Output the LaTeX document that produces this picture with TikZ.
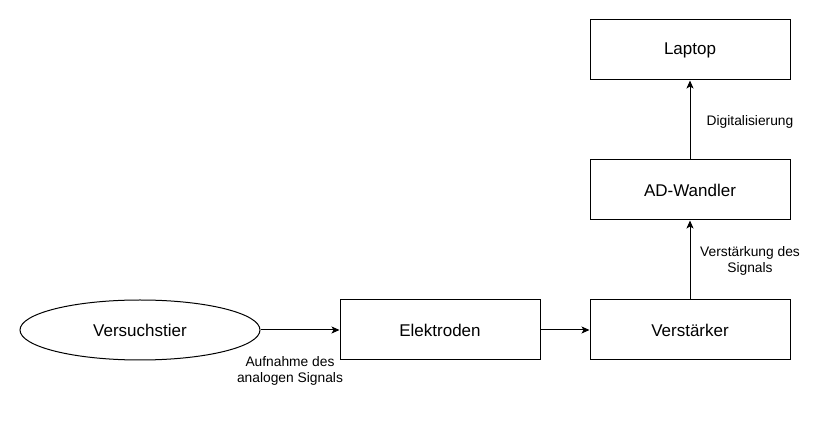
\documentclass[tikz,border=0pt]{standalone}
\usepackage{fontspec}
\setmainfont{Liberation Sans}
\usetikzlibrary{shapes.geometric,arrows.meta}
\begin{document}
\begin{tikzpicture}[x=1pt,y=-1pt,
  box/.style={draw,line width=1pt,minimum width=200pt,minimum height=60pt,inner sep=0pt,font=\fontsize{17}{20}\selectfont},
  oval/.style={draw,ellipse,line width=1pt,minimum width=240pt,minimum height=60pt,inner sep=0pt,font=\fontsize{17}{20}\selectfont},
  lbl/.style={font=\fontsize{13.8}{16}\selectfont,align=center,inner sep=0pt},
  conn/.style={line width=1pt,-{Stealth[length=8pt,width=7pt,inset=2pt]}}]
\useasboundingbox[fill=white] (0,0) rectangle (831,446);
\node[oval] (tier) at (140,330) {Versuchstier};
\node[box] (elek) at (440,330) {Elektroden};
\node[box] (verst) at (690,330) {Verstärker};
\node[box] (ad) at (690,190) {AD-Wandler};
\node[box] (lap) at (690,50) {Laptop};
\draw[conn] (tier) -- (elek);
\draw[conn] (elek) -- (verst);
\draw[conn] (verst) -- (ad);
\draw[conn] (ad) -- (lap);
\node[lbl] (l1) at (290,371) {Aufnahme des\\analogen Signals};
\node[lbl] (l2) at (750,261) {Verstärkung des\\Signals};
\node[lbl] (l3) at (750,122) {Digitalisierung};
\end{tikzpicture}
\end{document}
